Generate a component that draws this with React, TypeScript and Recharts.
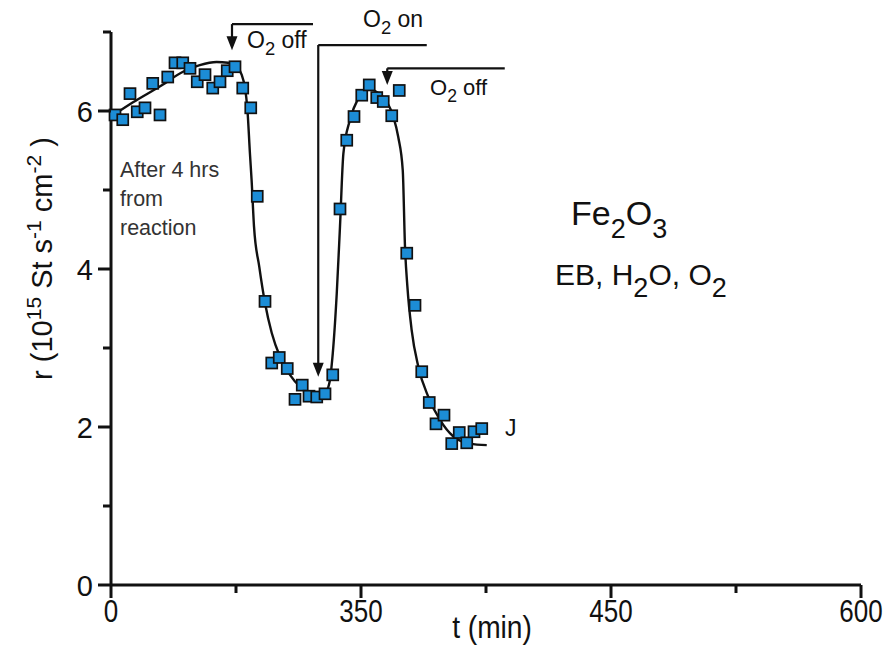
import React from "react";
import {
  ComposedChart,
  Scatter,
  Line,
  XAxis,
  YAxis,
  ReferenceLine,
  ReferenceDot,
} from "recharts";

// measured points (x in axis units, r in 10^15 St s^-1 cm^-2)
const pointT = [
  3.2, 9.4, 15.2, 21.0, 27.2, 33.4, 39.2, 45.4, 51.2, 57.4, 63.2, 69.0, 75.2,
  81.4, 87.2, 93.0, 99.2, 105.4, 111.8, 117.0, 123.2, 128.6, 134.6, 141.0,
  147.2, 153.0, 158.4, 164.6, 171.2, 177.4, 183.2, 188.6, 194.4, 200.6, 206.6,
  212.6, 217.8, 224.6, 230.6, 236.6, 243.2, 248.6, 254.6, 260.0, 266.4, 272.6,
  278.6, 284.6, 290.4, 296.6,
];
const pointR = [
  5.95, 5.89, 6.22, 5.99, 6.04, 6.35, 5.95, 6.43, 6.61, 6.61, 6.54, 6.37, 6.46,
  6.29, 6.37, 6.51, 6.56, 6.29, 6.04, 4.92, 3.59, 2.81, 2.88, 2.74, 2.35, 2.53,
  2.39, 2.38, 2.42, 2.66, 4.76, 5.63, 5.93, 6.2, 6.33, 6.17, 6.12, 5.94, 6.26,
  4.2, 3.54, 2.7, 2.31, 2.04, 2.15, 1.79, 1.93, 1.8, 1.94, 1.98,
];

// fitted curve
const fitT = [
  4, 17.6, 39, 58, 71, 84.5, 93.6, 100.5, 104.5, 107, 109, 111.2, 112.5, 114.4,
  118.6, 123.2, 128.6, 135.2, 143.2, 151.2, 159.2, 165.9, 171.2, 174.6, 177.4,
  180.6, 183.2, 185.9, 191.2, 197.8, 205.8, 212.6, 220.6, 225.8, 229.8, 233.4,
  235.2, 237.1, 240.5, 245.9, 253.9, 263.2, 273.9, 287.2, 300.6,
];
const fitR = [
  5.97, 6.11, 6.31, 6.5, 6.58, 6.62, 6.61, 6.56, 6.46, 6.31, 6.05, 5.45, 5.12,
  4.54, 4.03, 3.57, 3.19, 2.89, 2.66, 2.51, 2.43, 2.4, 2.43, 2.55, 2.93, 3.69,
  4.54, 5.46, 5.89, 6.16, 6.29, 6.24, 6.12, 5.93, 5.67, 5.25, 4.28, 3.78, 3.23,
  2.76, 2.38, 2.09, 1.88, 1.79, 1.77,
];

// axis ticks
const xTicks = [0, 100, 200, 300, 400, 500, 600];
const xMajor = [0, 200, 400, 600];
const xTickLabels = ["0", "350", "450", "600"];
const yTicks = [0, 1, 2, 3, 4, 5, 6, 7];
const yMajor = [0, 2, 4, 6];

// O2 switching arrows: x, top of stem, tip, end of the flag line
const arrowT = [96.8, 165.8, 221];
const arrowTop = [7.1, 6.835, 6.54];
const arrowTip = [6.77, 2.637, 6.33];
const arrowEnd = [161.6, 252.6, 315];

const points = pointT.map((t, i) => ({ t, r: pointR[i] }));
const fit = fitT.map((t, i) => ({ t, r: fitR[i] }));

const FONT = "'Liberation Sans', Arial, sans-serif";
const INK = "#111";

const Square = (p: any) => (
  <rect
    x={p.cx - 5.5}
    y={p.cy - 5.5}
    width={11}
    height={11}
    fill="#1C8DD6"
    stroke={INK}
    strokeWidth={1.7}
  />
);

const XTick = (p: any) => {
  const v = p.payload.value;
  const idx = xMajor.indexOf(v);
  return (
    <g>
      <line x1={p.x} x2={p.x} y1={p.y} y2={p.y + (idx >= 0 ? 13 : 8)} stroke={INK} strokeWidth={3} />
      {idx >= 0 && (
        <g transform={`translate(${p.x},${p.y + 37}) scale(0.84,1)`}>
          <text x={0} y={0} textAnchor="middle" fontSize={31} fontFamily={FONT} fill={INK}>
            {xTickLabels[idx]}
          </text>
        </g>
      )}
    </g>
  );
};

const YTick = (p: any) => {
  const v = p.payload.value;
  const major = yMajor.includes(v);
  return (
    <g>
      <line x1={p.x} x2={p.x - (major ? 13 : 8)} y1={p.y} y2={p.y} stroke={INK} strokeWidth={3} />
      {major && (
        <text x={p.x - 18} y={p.y + 11} textAnchor="end" fontSize={29} fontFamily={FONT} fill={INK}>
          {v}
        </text>
      )}
    </g>
  );
};

const ArrowHead = (p: any) => (
  <path d={`M${p.cx - 5.5},${p.cy - 14} L${p.cx + 5.5},${p.cy - 14} L${p.cx},${p.cy} Z`} fill={INK} />
);

const O2Label = (size: number, rest: string) => (p: any) => (
  <text x={p.cx} y={p.cy} fontSize={size} fontFamily={FONT} fill={INK}>
    <tspan>O</tspan>
    <tspan dy={7} fontSize={size * 0.8}>2</tspan>
    <tspan dy={-7}>{rest}</tspan>
  </text>
);

const AfterLabel = (p: any) => (
  <text x={p.cx} y={p.cy} fontSize={21.5} fontFamily={FONT} fill="#333">
    <tspan x={p.cx}>After 4 hrs</tspan>
    <tspan x={p.cx} dy={29}>from</tspan>
    <tspan x={p.cx} dy={29}>reaction</tspan>
  </text>
);

const FeLabel = (p: any) => (
  <text x={p.cx} y={p.cy} fontSize={34} fontFamily={FONT} fill={INK}>
    <tspan>Fe</tspan>
    <tspan dy={13} fontSize={27}>2</tspan>
    <tspan dy={-13}>O</tspan>
    <tspan dy={13} fontSize={27}>3</tspan>
  </text>
);

const EbLabel = (p: any) => (
  <text x={p.cx} y={p.cy} fontSize={30} fontFamily={FONT} fill={INK}>
    <tspan>EB, H</tspan>
    <tspan dy={12} fontSize={27}>2</tspan>
    <tspan dy={-12}>O, O</tspan>
    <tspan dy={12} fontSize={27}>2</tspan>
  </text>
);

const JLabel = (p: any) => (
  <text x={p.cx} y={p.cy} fontSize={23} fontFamily={FONT} fill={INK}>
    J
  </text>
);

const YLabel = (p: any) => {
  const vb = p.viewBox;
  const cx = vb.x + 1;
  const cy = vb.y + vb.height / 2 - 50;
  return (
    <text
      transform={`translate(${cx},${cy}) rotate(-90)`}
      textAnchor="middle"
      fontSize={29}
      fontFamily={FONT}
      fill={INK}
    >
      <tspan>r  (10</tspan>
      <tspan dy={-11} fontSize={21}>15</tspan>
      <tspan dy={11}>  St  s</tspan>
      <tspan dy={-11} fontSize={21}>-1</tspan>
      <tspan dy={11}>  cm</tspan>
      <tspan dy={-11} fontSize={21}>-2</tspan>
      <tspan dy={11}>  )</tspan>
    </text>
  );
};

const XLabel = (p: any) => {
  const vb = p.viewBox;
  return (
    <g transform={`translate(${vb.x + vb.width / 2 + 6},${vb.y + 53}) scale(0.88,1)`}>
      <text x={0} y={0} textAnchor="middle" fontSize={32} fontFamily={FONT} fill={INK}>
        t (min)
      </text>
    </g>
  );
};

export default function App() {
  return (
    <div style={{ position: "absolute", left: 0, top: 0, background: "#fff" }}>
      <ComposedChart width={887} height={649} margin={{ top: 32, right: 26, bottom: 24, left: 51 }}>
        <XAxis
          type="number"
          dataKey="t"
          domain={[0, 600]}
          ticks={xTicks}
          interval={0}
          tickSize={0}
          tickMargin={0}
          tick={<XTick />}
          axisLine={false}
          height={40}
          label={{ content: <XLabel /> }}
        />
        <YAxis
          type="number"
          dataKey="r"
          domain={[0, 7]}
          ticks={yTicks}
          interval={0}
          tickSize={0}
          tickMargin={0}
          tick={<YTick />}
          axisLine={false}
          width={60}
          label={{ content: <YLabel /> }}
        />
        <ReferenceLine segment={[{ x: 0, y: 0 }, { x: 600, y: 0 }]} stroke={INK} strokeWidth={3} ifOverflow="visible" />
        <ReferenceLine segment={[{ x: 0, y: 0 }, { x: 0, y: 7 }]} stroke={INK} strokeWidth={3} ifOverflow="visible" />
        <Scatter data={points} dataKey="r" shape={<Square />} isAnimationActive={false} />
        <Line
          data={fit}
          dataKey="r"
          type="monotone"
          stroke={INK}
          strokeWidth={2.4}
          dot={false}
          activeDot={false}
          isAnimationActive={false}
        />
        {arrowT.map((t, i) => (
          <ReferenceLine
            key={`v${i}`}
            segment={[{ x: t, y: arrowTop[i] }, { x: t, y: arrowTip[i] + 0.1 }]}
            stroke={INK}
            strokeWidth={2.2}
            ifOverflow="visible"
          />
        ))}
        {arrowT.map((t, i) => (
          <ReferenceLine
            key={`h${i}`}
            segment={[{ x: t, y: arrowTop[i] }, { x: arrowEnd[i], y: arrowTop[i] }]}
            stroke={INK}
            strokeWidth={2.2}
            ifOverflow="visible"
          />
        ))}
        {arrowT.map((t, i) => (
          <ReferenceDot key={`a${i}`} x={t} y={arrowTip[i]} r={0} shape={ArrowHead} ifOverflow="visible" />
        ))}
        <ReferenceDot x={108.8} y={6.797} r={0} shape={O2Label(23, " off")} ifOverflow="visible" />
        <ReferenceDot x={201.6} y={7.063} r={0} shape={O2Label(23, " on")} ifOverflow="visible" />
        <ReferenceDot x={255.2} y={6.203} r={0} shape={O2Label(22, " off")} ifOverflow="visible" />
        <ReferenceDot x={7.2} y={5.165} r={0} shape={AfterLabel} ifOverflow="visible" />
        <ReferenceDot x={368} y={4.557} r={0} shape={FeLabel} ifOverflow="visible" />
        <ReferenceDot x={355.2} y={3.797} r={0} shape={EbLabel} ifOverflow="visible" />
        <ReferenceDot x={315.2} y={1.886} r={0} shape={JLabel} ifOverflow="visible" />
      </ComposedChart>
    </div>
  );
}
